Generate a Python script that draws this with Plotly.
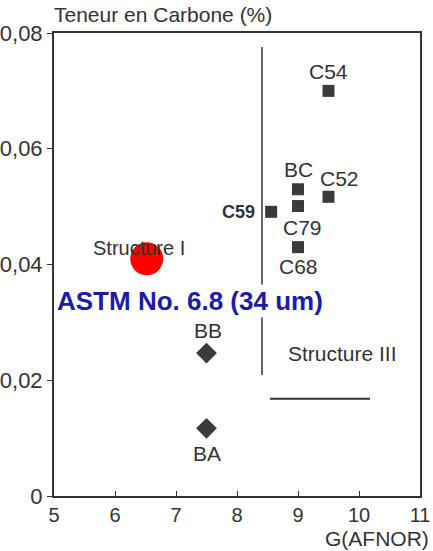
import plotly.graph_objects as go

# ---- data ----
square_names = ["C54", "BC", "C79", "C52", "C59", "C68"]
square_g = [9.5, 9.0, 9.0, 9.5, 8.56, 9.0]
square_c = [0.0700, 0.0530, 0.0501, 0.0517, 0.0491, 0.0430]

diamond_names = ["BB", "BA"]
diamond_g = [7.5, 7.5]
diamond_c = [0.0247, 0.0117]

struct1_name = ["Structure I"]
struct1_g = [6.52]
struct1_c = [0.0410]

x_ticks = [5, 6, 7, 8, 9, 10, 11]
y_ticks = [0, 0.02, 0.04, 0.06, 0.08]
y_ticktext = ["0", "0,02", "0,04", "0,06", "0,08"]

boundary_vert_g = [8.41, 8.41]
boundary_vert_c = [0.0776, 0.0209]
boundary_hor_g = [8.54, 10.18]
boundary_hor_c = [0.0168, 0.0168]

FONT = "Liberation Sans, Arial, Helvetica, sans-serif"
INK = "#333333"

fig = go.Figure()
fig.add_trace(go.Scatter(x=boundary_vert_g, y=boundary_vert_c, mode="lines",
                         line=dict(color=INK, width=1.5), hoverinfo="skip"))
fig.add_trace(go.Scatter(x=boundary_hor_g, y=boundary_hor_c, mode="lines",
                         line=dict(color=INK, width=2), hoverinfo="skip"))
fig.add_trace(go.Scatter(x=square_g, y=square_c, mode="markers",
                         marker=dict(symbol="square", size=12, color="#3a3a3a")))
fig.add_trace(go.Scatter(x=diamond_g, y=diamond_c, mode="markers",
                         marker=dict(symbol="diamond", size=16, color="#3a3a3a")))

# label offsets (pixels)
offsets = {
    "C54": dict(xshift=0, yshift=19, xanchor="center", bold=False),
    "BC": dict(xshift=0, yshift=20, xanchor="center", bold=False),
    "C79": dict(xshift=4, yshift=-21, xanchor="center", bold=False),
    "C52": dict(xshift=11, yshift=18, xanchor="center", bold=False),
    "C59": dict(xshift=-14, yshift=0, xanchor="right", bold=True),
    "C68": dict(xshift=0, yshift=-19, xanchor="center", bold=False),
    "BB": dict(xshift=1, yshift=23, xanchor="center", bold=False),
    "BA": dict(xshift=0, yshift=-25, xanchor="center", bold=False),
}
annotations = []
for n, g, c in zip(square_names + diamond_names, square_g + diamond_g, square_c + diamond_c):
    o = offsets[n]
    annotations.append(dict(
        x=g, y=c, text=(f"<b>{n}</b>" if o["bold"] else n), showarrow=False,
        xanchor=o["xanchor"], yanchor="middle", xshift=o["xshift"], yshift=o["yshift"],
        font=dict(family=FONT, size=(18 if o["bold"] else 21), color=INK)))

# Structure I label (under the red circle)
annotations.append(dict(x=struct1_g[0], y=struct1_c[0], text=struct1_name[0], showarrow=False,
                        xanchor="left", yanchor="middle", xshift=-56, yshift=11,
                        font=dict(family=FONT, size=20, color=INK)))
fig.add_trace(go.Scatter(x=struct1_g, y=struct1_c, mode="markers",
                         marker=dict(symbol="circle", size=33, color="#ff0000")))

annotations.append(dict(x=8.80, y=0.0247, text="Structure III", showarrow=False,
                        xanchor="left", yanchor="middle",
                        font=dict(family=FONT, size=21, color=INK)))
annotations.append(dict(x=5.02, y=0.0337, text="<b>ASTM No. 6.8 (34 um)</b>", showarrow=False,
                        xanchor="left", yanchor="middle", bgcolor="white", borderpad=1,
                        font=dict(family=FONT, size=26, color="#1c1ca6")))
annotations.append(dict(x=-0.005, y=1.039, xref="paper", yref="paper",
                        text="Teneur en Carbone (%)", showarrow=False,
                        xanchor="left", yanchor="middle",
                        font=dict(family=FONT, size=21, color=INK)))
annotations.append(dict(x=1.03, y=-0.092, xref="paper", yref="paper",
                        text="G(AFNOR)", showarrow=False,
                        xanchor="right", yanchor="middle",
                        font=dict(family=FONT, size=21, color=INK)))

fig.update_layout(
    width=433, height=551,
    margin=dict(l=54, r=13, t=33, b=55),
    paper_bgcolor="white", plot_bgcolor="white",
    showlegend=False,
    annotations=annotations,
    font=dict(family=FONT, size=21, color=INK),
    xaxis=dict(range=[5, 11], tickvals=x_ticks, ticks="inside", ticklen=5,
               tickcolor=INK, showgrid=False, zeroline=False, automargin=False,
               showline=True, linecolor=INK, linewidth=2, mirror=True,
               tickfont=dict(family=FONT, size=20, color=INK)),
    yaxis=dict(range=[0, 0.08], tickvals=y_ticks, ticktext=y_ticktext,
               ticks="outside", ticklen=5, tickcolor=INK, automargin=False,
               showgrid=False, zeroline=False,
               showline=True, linecolor=INK, linewidth=2, mirror=True,
               tickfont=dict(family=FONT, size=22, color=INK)),
)

fig.write_html("out.html", config={"displayModeBar": False},
               post_script="document.body.style.margin='0';document.body.style.overflow='hidden';")
